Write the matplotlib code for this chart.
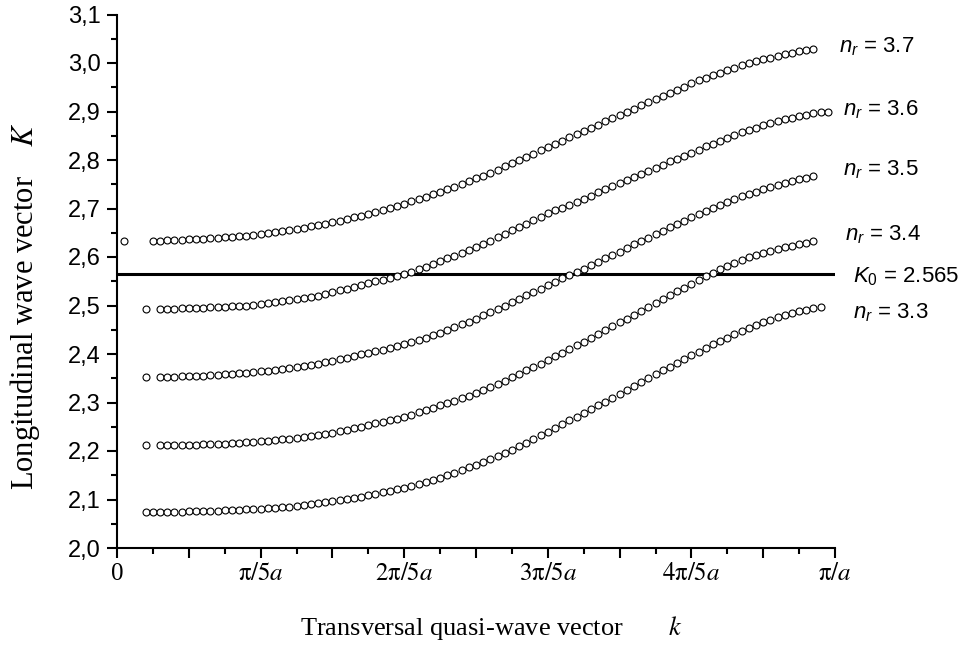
import numpy as np
import matplotlib
matplotlib.use("Agg")
import matplotlib.pyplot as plt
from matplotlib.ticker import MultipleLocator, FixedLocator

plt.rcParams['mathtext.fontset'] = 'custom'
plt.rcParams['mathtext.rm'] = 'Liberation Sans'
plt.rcParams['mathtext.it'] = 'Liberation Sans:italic'

# ---- data (k in units of pi/a, index step = 0.01) ----
K0 = 2.565

# n_r = 3.7 : isolated point at k=0.01, curve from k=0.05 to 0.97
k37_iso, K37_iso = [0.01], [2.634]
k37 = np.arange(5, 98) / 100
K37 = [2.634, 2.634, 2.635, 2.635, 2.636, 2.637,
       2.637, 2.638, 2.639, 2.640, 2.641, 2.642, 2.643, 2.644, 2.646, 2.647,
       2.649, 2.651, 2.653, 2.655, 2.658, 2.660, 2.663, 2.666, 2.669, 2.672,
       2.675, 2.678, 2.682, 2.685, 2.689, 2.693, 2.697, 2.701, 2.706, 2.710,
       2.715, 2.719, 2.724, 2.729, 2.735, 2.740, 2.745, 2.751, 2.756, 2.762,
       2.768, 2.774, 2.780, 2.787, 2.793, 2.800, 2.806, 2.813, 2.820, 2.827,
       2.833, 2.840, 2.847, 2.853, 2.860, 2.866, 2.873, 2.880, 2.886, 2.893,
       2.900, 2.906, 2.913, 2.919, 2.926, 2.932, 2.939, 2.945, 2.951, 2.958,
       2.964, 2.969, 2.975, 2.980, 2.985, 2.990, 2.995, 2.999, 3.004, 3.008,
       3.011, 3.015, 3.018, 3.021, 3.024, 3.026, 3.028]

# n_r = 3.6 : isolated point at k=0.04, curve from k=0.06 to 0.99
k36_iso, K36_iso = [0.04], [2.493]
k36 = np.arange(6, 100) / 100
K36 = [2.493, 2.493, 2.493, 2.494, 2.494,
       2.495, 2.495, 2.496, 2.497, 2.497, 2.498, 2.499, 2.500, 2.502, 2.503,
       2.505, 2.507, 2.509, 2.511, 2.513, 2.515, 2.518, 2.520, 2.524, 2.527,
       2.531, 2.535, 2.539, 2.542, 2.546, 2.550, 2.553, 2.557, 2.561, 2.565,
       2.570, 2.575, 2.580, 2.585, 2.591, 2.597, 2.602, 2.608, 2.614, 2.621,
       2.627, 2.634, 2.641, 2.648, 2.655, 2.662, 2.669, 2.676, 2.683, 2.690,
       2.696, 2.702, 2.708, 2.714, 2.720, 2.726, 2.733, 2.740, 2.746, 2.753,
       2.759, 2.765, 2.772, 2.778, 2.784, 2.790, 2.797, 2.803, 2.809, 2.815,
       2.821, 2.828, 2.834, 2.840, 2.846, 2.851, 2.857, 2.862, 2.867, 2.872,
       2.876, 2.880, 2.884, 2.887, 2.890, 2.893, 2.896, 2.898, 2.900]

# n_r = 3.5 : isolated point at k=0.04, curve from k=0.06 to 0.97
k35_iso, K35_iso = [0.04], [2.353]
k35 = np.arange(6, 98) / 100
K35 = [2.353, 2.353, 2.353, 2.354, 2.354,
       2.355, 2.355, 2.356, 2.357, 2.358, 2.359, 2.360, 2.361, 2.362, 2.364,
       2.365, 2.367, 2.369, 2.371, 2.373, 2.375, 2.378, 2.380, 2.383, 2.386,
       2.389, 2.392, 2.396, 2.399, 2.402, 2.406, 2.409, 2.413, 2.416, 2.420,
       2.424, 2.429, 2.434, 2.439, 2.444, 2.449, 2.455, 2.461, 2.467, 2.473,
       2.480, 2.486, 2.493, 2.500, 2.507, 2.514, 2.521, 2.528, 2.535, 2.542,
       2.549, 2.556, 2.563, 2.570, 2.576, 2.583, 2.590, 2.597, 2.604, 2.611,
       2.618, 2.626, 2.633, 2.640, 2.647, 2.654, 2.661, 2.668, 2.675, 2.682,
       2.689, 2.695, 2.702, 2.708, 2.714, 2.720, 2.725, 2.730, 2.735, 2.740,
       2.745, 2.749, 2.753, 2.757, 2.760, 2.763, 2.766]

# n_r = 3.4 : isolated point at k=0.04, curve from k=0.06 to 0.97
k34_iso, K34_iso = [0.04], [2.212]
k34 = np.arange(6, 98) / 100
K34 = [2.212, 2.212, 2.212, 2.212, 2.213,
       2.213, 2.214, 2.214, 2.215, 2.215, 2.216, 2.217, 2.218, 2.219, 2.220,
       2.221, 2.222, 2.224, 2.225, 2.227, 2.229, 2.231, 2.233, 2.236, 2.238,
       2.241, 2.244, 2.247, 2.250, 2.253, 2.257, 2.260, 2.264, 2.267, 2.271,
       2.275, 2.280, 2.284, 2.289, 2.294, 2.299, 2.304, 2.309, 2.314, 2.320,
       2.326, 2.332, 2.339, 2.345, 2.352, 2.359, 2.366, 2.373, 2.380, 2.388,
       2.395, 2.403, 2.410, 2.418, 2.425, 2.433, 2.441, 2.449, 2.457, 2.465,
       2.473, 2.481, 2.489, 2.497, 2.505, 2.513, 2.521, 2.529, 2.537, 2.545,
       2.553, 2.561, 2.568, 2.575, 2.582, 2.588, 2.594, 2.599, 2.604, 2.608,
       2.612, 2.616, 2.620, 2.623, 2.626, 2.629, 2.632]

# n_r = 3.3 : curve from k=0.04 to 0.98
k33 = np.arange(4, 99) / 100
K33 = [2.075, 2.075, 2.075, 2.075, 2.075, 2.075, 2.076,
       2.076, 2.076, 2.077, 2.077, 2.078, 2.078, 2.079, 2.080, 2.080, 2.081,
       2.082, 2.083, 2.084, 2.085, 2.087, 2.088, 2.090, 2.092, 2.094, 2.096,
       2.098, 2.101, 2.104, 2.106, 2.109, 2.112, 2.115, 2.118, 2.121, 2.124,
       2.128, 2.132, 2.136, 2.141, 2.145, 2.150, 2.155, 2.160, 2.166, 2.171,
       2.177, 2.183, 2.189, 2.196, 2.203, 2.210, 2.217, 2.225, 2.232, 2.240,
       2.248, 2.255, 2.263, 2.271, 2.279, 2.287, 2.295, 2.302, 2.310, 2.318,
       2.326, 2.334, 2.342, 2.350, 2.358, 2.366, 2.374, 2.382, 2.390, 2.398,
       2.405, 2.413, 2.420, 2.427, 2.434, 2.441, 2.447, 2.454, 2.460, 2.466,
       2.471, 2.476, 2.480, 2.484, 2.488, 2.491, 2.494, 2.497]

series_labels = ["3.7", "3.6", "3.5", "3.4", "3.3"]
x_tick_pos = [0, 0.2, 0.4, 0.6, 0.8, 1.0]
x_tick_labels = ["0", r"$\mathrm{\pi/5}a$", r"$\mathrm{2\pi/5}a$",
                 r"$\mathrm{3\pi/5}a$", r"$\mathrm{4\pi/5}a$", r"$\mathrm{\pi/}a$"]
y_ticks = [2.0, 2.1, 2.2, 2.3, 2.4, 2.5, 2.6, 2.7, 2.8, 2.9, 3.0, 3.1]

# ---- figure ----
W, H = 961, 657
fig = plt.figure(figsize=(W / 100, H / 100), dpi=100)
ax = fig.add_axes([117 / W, 1 - 548 / H, (835 - 117) / W, (548 - 14.5) / H])

mk = dict(marker='o', linestyle='none', markersize=5.0, markerfacecolor='white',
          markeredgecolor='black', markeredgewidth=0.8, clip_on=False)
for kx, ky in [(k37_iso, K37_iso), (k37, K37), (k36_iso, K36_iso), (k36, K36),
               (k35_iso, K35_iso), (k35, K35), (k34_iso, K34_iso), (k34, K34),
               (k33, K33)]:
    ax.plot(kx, ky, **mk)

ax.axhline(K0, xmin=0, xmax=1, color='black', lw=2.2, zorder=1)

ax.set_xlim(0, 1)
ax.set_ylim(2.0, 3.1)
for s in ['top', 'right']:
    ax.spines[s].set_visible(False)
for s in ['left', 'bottom']:
    ax.spines[s].set_linewidth(1.5)

ax.yaxis.set_major_locator(FixedLocator(y_ticks))
ax.set_yticklabels([f"{v:.1f}".replace('.', ',') for v in y_ticks],
                   fontfamily='Liberation Sans', fontsize=17)
ax.yaxis.set_minor_locator(MultipleLocator(0.05))

ax.xaxis.set_major_locator(MultipleLocator(0.1))
ax.xaxis.set_major_formatter(plt.NullFormatter())
ax.xaxis.set_minor_locator(MultipleLocator(0.05))
ax.tick_params(axis='both', which='major', direction='out', length=7.5, width=1.5)
ax.tick_params(axis='both', which='minor', direction='out', length=4, width=1.5)
ax.tick_params(axis='y', which='major', pad=4)

for xp, lab in zip(x_tick_pos, x_tick_labels):
    ax.text(xp, -0.028, lab, transform=ax.get_xaxis_transform(), ha='center', va='top',
            fontsize=18, fontfamily='Liberation Serif', math_fontfamily='stix')

# curve labels
lab_x = [1.0056, 1.0112, 1.0112, 1.0139, 1.0250]
lab_y = [3.033, 2.903, 2.779, 2.645, 2.485]
for lx, ly, s in zip(lab_x, lab_y, series_labels):
    ax.text(lx, ly, r"$n_r$" + f" = {s}", fontsize=16, fontfamily='Liberation Sans',
            va='center', ha='left', clip_on=False)
ax.text(1.0250, 2.559, r"$K_0$" + f" = {K0}", fontsize=16, fontfamily='Liberation Sans',
        va='center', ha='left', clip_on=False)

# axis titles
fig.text(25 / W, 1 - 306 / H, "Longitudinal wave vector    $K$", rotation=90,
         ha='center', va='center', fontsize=22, fontfamily='Liberation Serif',
         math_fontfamily='stix')
fig.text(491 / W, 1 - 628 / H, "Transversal quasi-wave vector       $k$",
         ha='center', va='center', fontsize=19, fontfamily='Liberation Serif',
         math_fontfamily='stix')

fig.savefig("out.png", dpi=100)
